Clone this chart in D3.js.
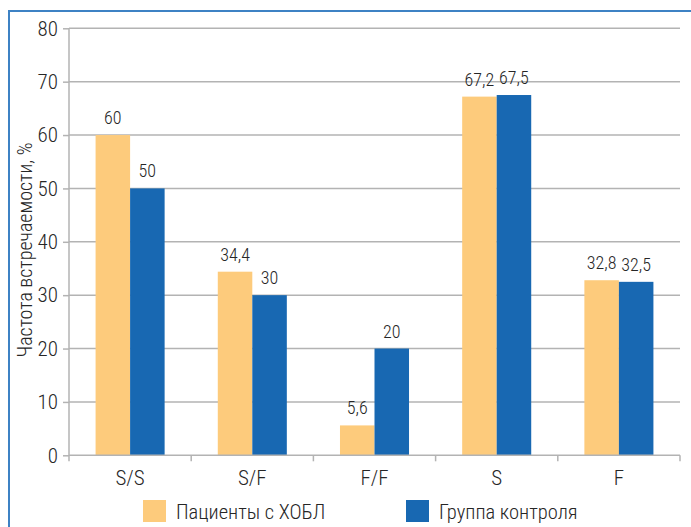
<!DOCTYPE html>
<html>
<head>
<meta charset="utf-8">
<script src="https://cdn.jsdelivr.net/npm/d3@7"></script>
<style>
  html, body { margin: 0; padding: 0; background: #fff; }
  svg { display: block; }
  text { font-family: "Roboto Condensed", "Roboto", sans-serif; font-weight: 300; fill: #262626; }
</style>
</head>
<body>
<svg id="chart" width="691" height="527"></svg>
<script>
// Genotype / allele groups
const categories = ["S/S", "S/F", "F/F", "S", "F"];
const seriesNames = ["Пациенты с ХОБЛ", "Группа контроля"];
const patients = [60, 34.4, 5.6, 67.2, 32.8];
const controls = [50, 30, 20, 67.5, 32.5];
const yTicks = [0, 10, 20, 30, 40, 50, 60, 70, 80];
const colors = ["#FDCB7C", "#1868B2"];
const FONT = "'Roboto Condensed', Roboto, sans-serif";

const svg = d3.select("#chart");

// Frame around the figure
svg.append("rect")
  .attr("x", 9).attr("y", 11)
  .attr("width", 700).attr("height", 540)
  .attr("fill", "none")
  .attr("stroke", "#3D82C4")
  .attr("stroke-width", 2);

const plot = { left: 69, right: 680, top: 28.3, bottom: 455.3 };

const x = d3.scaleBand().domain(categories).range([plot.left, plot.right]).paddingInner(0).paddingOuter(0);
const inner = d3.scaleBand().domain([0, 1]).range([0, x.bandwidth()]).paddingOuter(0.77).paddingInner(0);
const y = d3.scaleLinear().domain([0, 80]).range([plot.bottom, plot.top]);

// Horizontal gridlines
svg.append("g").selectAll("line").data(yTicks.filter(d => d > 0)).join("line")
  .attr("x1", plot.left).attr("x2", plot.right)
  .attr("y1", d => y(d)).attr("y2", d => y(d))
  .attr("stroke", "#B3B3B3").attr("stroke-width", 1.5);

// Bars
const rows = categories.map((c, i) => ({ c, vals: [patients[i], controls[i]] }));
const groups = svg.append("g").selectAll("g").data(rows).join("g")
  .attr("transform", d => `translate(${x(d.c)},0)`);

groups.selectAll("rect").data(d => d.vals.map((v, k) => ({ v, k }))).join("rect")
  .attr("x", d => inner(d.k))
  .attr("width", inner.bandwidth())
  .attr("y", d => y(d.v))
  .attr("height", d => y(0) - y(d.v))
  .attr("fill", d => colors[d.k]);

// Value labels
groups.selectAll("text").data(d => d.vals.map((v, k) => ({ v, k }))).join("text")
  .attr("x", d => inner(d.k) + inner.bandwidth() / 2)
  .attr("y", d => y(d.v) - 11)
  .attr("text-anchor", "middle")
  .attr("font-size", 18)
  .text(d => String(d.v).replace(".", ","));

// Y axis
const yAxis = svg.append("g")
  .attr("transform", `translate(${plot.left},0)`)
  .call(d3.axisLeft(y).tickValues(yTicks).tickSize(6).tickPadding(5).tickFormat(d3.format("d")));
yAxis.select(".domain").attr("stroke", "#B3B3B3").attr("stroke-width", 1.5)
  .attr("d", `M0,${plot.top}V${plot.bottom}`);
yAxis.selectAll(".tick line").attr("stroke", "#B3B3B3").attr("stroke-width", 1.5);
yAxis.selectAll(".tick text").attr("font-size", 21).attr("fill", "#262626")
  .style("font-family", FONT).style("font-weight", 300);

// X axis
const xAxis = svg.append("g")
  .attr("transform", `translate(0,${plot.bottom})`)
  .call(d3.axisBottom(x).tickSize(0).tickPadding(15));
xAxis.select(".domain").attr("stroke", "#B3B3B3").attr("stroke-width", 1.5)
  .attr("d", `M${plot.left},0H${plot.right}`);
xAxis.selectAll(".tick text").attr("font-size", 21).attr("fill", "#262626")
  .style("font-family", FONT).style("font-weight", 300);
// Category boundary ticks
svg.append("g").selectAll("line")
  .data(categories.map(c => x(c)).concat([plot.right]))
  .join("line")
  .attr("x1", d => d).attr("x2", d => d)
  .attr("y1", plot.bottom).attr("y2", plot.bottom + 6)
  .attr("stroke", "#B3B3B3").attr("stroke-width", 1.5);

// Y axis title
svg.append("text")
  .attr("transform", `translate(32,250) rotate(-90)`)
  .attr("text-anchor", "middle")
  .attr("font-size", 20)
  .text("Частота встречаемости, %");

// Legend
const legendX = [143, 406];
const legend = svg.append("g").selectAll("g").data(seriesNames).join("g")
  .attr("transform", (d, i) => `translate(${legendX[i]},500)`);
legend.append("rect").attr("width", 23).attr("height", 22).attr("fill", (d, i) => colors[i]);
legend.append("text").attr("x", 33).attr("y", 18.5).attr("font-size", 20.5).text(d => d);
</script>
</body>
</html>
